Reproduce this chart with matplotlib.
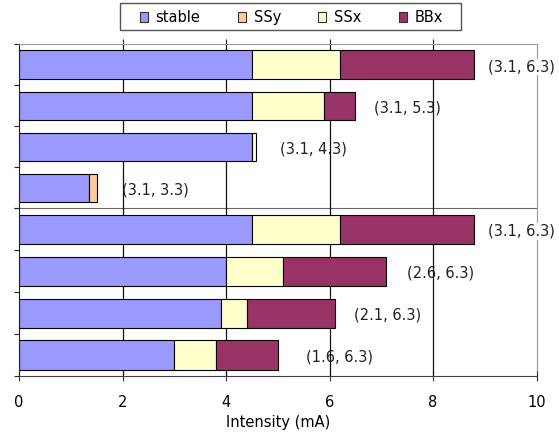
import matplotlib
matplotlib.use("Agg")
import matplotlib.pyplot as plt
from matplotlib.patches import Patch, Rectangle
import numpy as np

# Beam intensity split per working point (mA)
point_labels = ["(3.1, 6.3)", "(3.1, 5.3)", "(3.1, 4.3)", "(3.1, 3.3)",
                "(3.1, 6.3)", "(2.6, 6.3)", "(2.1, 6.3)", "(1.6, 6.3)"]
stable = [4.5, 4.5, 4.5, 1.35, 4.5, 4.0, 3.9, 3.0]
ssy = [0.0, 0.0, 0.0, 0.15, 0.0, 0.0, 0.0, 0.0]
ssx = [1.7, 1.4, 0.08, 0.0, 1.7, 1.1, 0.5, 0.8]
bbx = [2.6, 0.6, 0.0, 0.0, 2.6, 2.0, 1.7, 1.2]

series_names = ["stable", "SSy", "SSx", "BBx"]
series_colors = ["#9999FF", "#FFCC99", "#FFFFCC", "#993366"]
x_ticks = [0, 2, 4, 6, 8, 10]

# horizontal offset (pixels) of each value label from its bar end
label_dx = [14, 19, 24, 25, 14, 21, 19, 28]

W, H = 559, 436
fig = plt.figure(figsize=(W / 100, H / 100), dpi=100)
fig.patch.set_facecolor("white")


def px_axes(left, top, right, bottom):
    return fig.add_axes([left / W, 1 - bottom / H, (right - left) / W, (bottom - top) / H])


ax_top = px_axes(19, 44.3, 536.5, 208.5)
ax_bot = px_axes(19, 208.5, 536.5, 376)
ax_bot.patch.set_alpha(0)

groups = [(ax_top, list(range(0, 4))), (ax_bot, list(range(4, 8)))]
all_series = [stable, ssy, ssx, bbx]

for ax, rows in groups:
    ypos = np.arange(len(rows))
    left = np.zeros(len(rows))
    for name, vals, col in zip(series_names, all_series, series_colors):
        v = np.array([vals[i] for i in rows])
        nz = v > 0
        ax.barh(ypos[nz], v[nz], left=left[nz], height=0.70, color=col,
                edgecolor="black", linewidth=0.8, zorder=2)
        left += v
    for k, i in enumerate(rows):
        ax.annotate(point_labels[i], xy=(left[k], ypos[k]), xytext=(label_dx[i], -2),
                    textcoords="offset pixels", ha="left", va="center",
                    fontsize=10.5, color="#222222", zorder=1.5, annotation_clip=False,
                    bbox=dict(boxstyle="square,pad=0.05", fc="white", ec="none"))
    for gx in x_ticks[1:-1]:
        ax.axvline(gx, color="#111111", lw=0.9, zorder=1.8)
    ax.set_xlim(0, 10)
    ax.set_ylim(len(rows) - 0.5, -0.5)
    ax.set_yticks(np.arange(len(rows) + 1) - 0.5)
    ax.tick_params(axis="y", direction="out", length=3.6, width=0.8,
                   color="#222222", labelleft=False)
    ax.spines["left"].set_color("#222222")
    ax.spines["right"].set_color("#999999")
    ax.spines["right"].set_zorder(1)

# upper panel: ticks on top edge only
ax_top.set_xticks(x_ticks[1:-1])
ax_top.tick_params(axis="x", bottom=False, top=True, labelbottom=False,
                   direction="out", length=3.6, width=0.8, color="#222222")
ax_top.spines["top"].set_color("#999999")
ax_top.spines["bottom"].set_color("#666666")

# lower panel: labelled intensity axis
ax_bot.set_xticks(x_ticks)
ax_bot.tick_params(axis="x", direction="inout", length=7, width=0.8,
                   color="#333333", pad=10, labelsize=10.5)
ax_bot.spines["top"].set_visible(False)
ax_bot.spines["bottom"].set_color("#404040")
ax_bot.set_xlabel("Intensity (mA)", fontsize=10.5, labelpad=4)

# legend across the top
handles = [Patch(facecolor=c, edgecolor="#333333", linewidth=0.8, label=n)
           for n, c in zip(series_names, series_colors)]
fig.legend(handles=handles, ncol=4, frameon=False, loc="center",
           bbox_to_anchor=(291.5 / W, 1 - 17.5 / H), fontsize=10.5,
           handlelength=0.55, handleheight=0.62, handletextpad=0.55,
           columnspacing=2.55, borderpad=0, borderaxespad=0)
fig.patches.append(Rectangle((120 / W, 1 - 30 / H), (461 - 120) / W, 26.5 / H,
                             transform=fig.transFigure, fill=False,
                             edgecolor="#555555", lw=1))

fig.savefig("out.png", dpi=100)
